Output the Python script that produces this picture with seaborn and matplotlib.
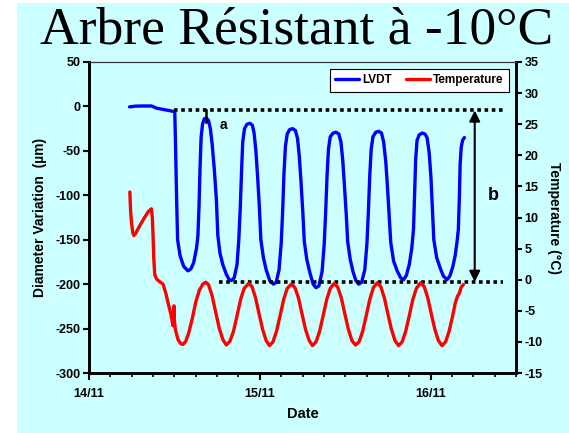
import numpy as np
import pandas as pd
import matplotlib
matplotlib.use("Agg")
import matplotlib.pyplot as plt
from matplotlib.patches import Rectangle
import seaborn as sns

# ---- data (hours since 14/11 00:00) ----
lvdt_hours = [5.7, 6.5, 7.5, 8.8, 9.5, 10.5, 11.5, 12.05, 12.15, 12.3, 12.45, 12.8, 13.3, 13.9, 14.3, 14.7,
              15.1, 15.3, 15.45, 15.6, 15.75, 15.95, 16.2, 16.5, 16.8, 17.05, 17.3, 17.6, 17.9, 18.1,
              18.4, 18.8, 19.3, 19.7, 20.0, 20.4, 20.8, 21.05, 21.25, 21.45, 21.6, 21.85, 22.2, 22.6,
              22.95, 23.2, 23.45, 23.7, 23.95, 24.15, 24.5, 24.9, 25.4, 25.9, 26.3, 26.7, 27.0, 27.2,
              27.4, 27.6, 27.85, 28.2, 28.6, 29.0, 29.3, 29.55, 29.8, 30.05, 30.25, 30.6, 31.0, 31.5,
              31.9, 32.3, 32.75, 33.05, 33.25, 33.45, 33.65, 33.9, 34.3, 34.7, 35.1, 35.4, 35.65, 35.9,
              36.15, 36.35, 36.7, 37.1, 37.5, 37.9, 38.3, 38.75, 39.05, 39.25, 39.45, 39.65, 39.9, 40.3,
              40.7, 41.1, 41.4, 41.7, 41.95, 42.2, 42.4, 42.8, 43.3, 43.8, 44.2, 44.6, 45.0, 45.35,
              45.6, 45.75, 45.9, 46.1, 46.4, 46.8, 47.2, 47.5, 47.8, 48.05, 48.25, 48.45, 48.85, 49.35,
              49.8, 50.3, 50.7, 51.1, 51.45, 51.75, 51.9, 52.05, 52.15, 52.3, 52.5, 52.75]
lvdt_um = [-0.5, 0.3, 0.5, 0.5, -2, -3.5, -5, -6, -40, -100, -150, -168, -180, -185, -183, -176,
           -160, -146, -115, -70, -35, -20, -14, -13, -16, -25, -42, -70, -105, -145,
           -165, -178, -189, -195, -196, -193, -178, -150, -115, -70, -40, -25, -20, -19,
           -21, -30, -50, -80, -115, -150, -170, -184, -196, -200, -198, -184, -155, -120,
           -75, -45, -31, -26, -25, -27, -36, -56, -86, -120, -152, -172, -186, -200,
           -204, -202, -186, -155, -120, -78, -48, -34, -30, -29, -31, -40, -60, -90,
           -122, -152, -172, -186, -196, -200, -198, -184, -155, -120, -78, -48, -34, -29,
           -28, -30, -40, -62, -92, -125, -153, -174, -185, -193, -195, -190, -178, -160,
           -138, -100, -60, -38, -32, -30, -31, -35, -52, -80, -115, -150, -170, -182,
           -191, -195, -191, -181, -168, -150, -138, -100, -65, -46, -38, -35]

temp_hours = [5.74, 5.85, 5.97, 6.15, 6.3, 6.6, 6.9, 7.6, 8.3, 8.77, 8.9, 9.0, 9.1, 9.24, 9.5, 9.9,
              10.4, 10.8, 11.1, 11.5, 11.8, 11.88, 11.94, 12.0, 12.13, 12.5, 12.9, 13.2, 13.6, 14.0,
              14.5, 15.0, 15.5, 16.0, 16.4, 16.8, 17.3, 17.8, 18.3, 18.8, 19.3, 19.8, 20.3, 20.8,
              21.3, 21.8, 22.45, 22.9, 23.4, 23.9, 24.4, 24.9, 25.35, 25.85, 26.35, 26.85, 27.35,
              27.85, 28.45, 28.95, 29.45, 29.95, 30.45, 30.95, 31.4, 31.9, 32.4, 32.9, 33.4, 33.9,
              34.45, 34.95, 35.45, 35.95, 36.45, 36.95, 37.45, 37.95, 38.45, 38.95, 39.45, 39.95,
              40.5, 41.0, 41.5, 42.0, 42.5, 43.0, 43.5, 44.0, 44.5, 45.0, 45.5, 46.0, 46.6, 47.1,
              47.6, 48.1, 48.6, 49.1, 49.6, 50.1, 50.6, 51.1, 51.5, 51.8, 52.0, 52.3, 52.6]
temp_c = [14.1, 11.0, 9.2, 7.6, 7.1, 7.5, 8.2, 9.6, 10.9, 11.4, 10.0, 7.1, 3.5, 0.8, 0.1, -0.3,
          -0.7, -2.2, -3.7, -5.5, -7.4, -6.0, -4.2, -6.5, -8.0, -9.6, -10.3, -10.4, -9.9, -8.6,
          -6.3, -3.6, -1.7, -0.7, -0.4, -0.8, -2.6, -5.2, -7.8, -9.6, -10.5, -9.9, -8.3, -5.8,
          -3.2, -1.4, -0.6, -1.1, -2.9, -5.5, -8.0, -9.8, -10.6, -10.0, -8.3, -5.8, -3.2,
          -1.4, -0.7, -1.3, -3.0, -5.6, -8.1, -9.8, -10.6, -10.0, -8.3, -5.8, -3.2, -1.4,
          -0.6, -1.2, -2.9, -5.5, -8.0, -9.8, -10.5, -10.0, -8.3, -5.8, -3.2, -1.3,
          -0.5, -1.1, -2.9, -5.5, -8.0, -9.8, -10.6, -10.0, -8.3, -5.8, -3.2, -1.4, -0.5, -1.1,
          -2.9, -5.5, -8.0, -9.8, -10.6, -10.0, -8.3, -5.8, -3.6, -2.6, -2.3, -1.2, -0.8]

date_ticks = [0, 24, 48]
date_labels = ["14/11", "15/11", "16/11"]
series_names = ["LVDT", "Temperature"]

df_lvdt = pd.DataFrame({"hour": lvdt_hours, "value": lvdt_um})
df_temp = pd.DataFrame({"hour": temp_hours, "value": temp_c})

# ---- style ----
CYAN = "#CCFFFF"
plt.rcParams["font.family"] = ["Liberation Sans", "DejaVu Sans"]
plt.rcParams["font.weight"] = "bold"
plt.rcParams["axes.unicode_minus"] = False

W, H = 569, 433
fig = plt.figure(figsize=(W / 100, H / 100), dpi=100, facecolor="white")
fig.patches.append(Rectangle((17 / W, 0), 1 - 17 / W, 1 - 3 / H, transform=fig.transFigure,
                             facecolor=CYAN, edgecolor="none", zorder=-10))

ax = fig.add_axes([89 / W, 1 - 373 / H, (516 - 89) / W, (373 - 62) / H])
ax.set_facecolor(CYAN)
ax2 = ax.twinx()

sns.lineplot(data=df_lvdt, x="hour", y="value", ax=ax, color="#0000FF", lw=2.4,
             estimator=None, sort=False, label=series_names[0], legend=False)
sns.lineplot(data=df_temp, x="hour", y="value", ax=ax2, color="#FF0000", lw=2.4,
             estimator=None, sort=False, label=series_names[1], legend=False)
for ln in ax.get_lines() + ax2.get_lines():
    ln.set_solid_joinstyle("round")
    ln.set_solid_capstyle("round")

ax.set_xlim(0, 60)
ax.set_ylim(-300, 50)
ax2.set_ylim(-15, 35)
ax.set_yticks(np.arange(-300, 51, 50))
ax2.set_yticks(np.arange(-15, 36, 5))
ax.set_xticks(date_ticks)
ax.set_xticklabels(date_labels)
ax.set_xticks(np.arange(0, 61, 3), minor=True)

for a in (ax, ax2):
    for s in a.spines.values():
        s.set_color("black")
    a.spines["left"].set_linewidth(2.0)
    a.spines["bottom"].set_linewidth(2.0)
    a.spines["right"].set_linewidth(2.0)
    a.spines["top"].set_linewidth(0.8)
    a.spines["top"].set_color("#333333")

ax.tick_params(axis="y", direction="out", length=4, width=1.5, labelsize=9, pad=2)
ax2.tick_params(axis="y", direction="out", length=4, width=1.5, labelsize=9, pad=2)
ax.tick_params(axis="x", which="major", direction="out", length=5, width=1.5, labelsize=9, pad=6)
ax.tick_params(axis="x", which="minor", direction="out", length=3, width=1.2)
for lab in ax.get_yticklabels() + ax2.get_yticklabels() + ax.get_xticklabels():
    lab.set_fontweight("bold")

ax.set_xlabel("Date", fontsize=10.5, fontweight="bold", labelpad=5)
ax.set_ylabel("Diameter Variation  (µm)", fontsize=10, fontweight="bold", labelpad=6)
ax2.set_ylabel("Temperature (°C)", fontsize=10, fontweight="bold", rotation=270, labelpad=13)

# ---- annotations ----
ax.plot([12.0, 58.2], [-4.5, -4.5], color="black", lw=2.6, ls=(0, (1, 1)), zorder=5)
ax.plot([18.3, 58.2], [-197.5, -197.5], color="black", lw=2.6, ls=(0, (1, 1)), zorder=5)
ax.plot([16.45, 16.45], [-4.5, -17], color="black", lw=1.8, zorder=5)
ax.text(18.9, -21, "a", fontsize=10, fontweight="bold", ha="center", va="center")
ax.annotate("", xy=(54.2, -4.5), xytext=(54.2, -197.5),
            arrowprops=dict(arrowstyle="<|-|>", color="black", lw=1.5, mutation_scale=16,
                            shrinkA=0, shrinkB=0))
ax.text(56.8, -100, "b", fontsize=13, fontweight="bold", ha="center", va="center")

# ---- legend ----
h1 = ax.get_lines()[0]
h2 = ax2.get_lines()[0]
leg = ax2.legend([h1, h2], series_names, loc="upper right", ncol=2, frameon=True,
                 fancybox=False, edgecolor="black", facecolor="white", framealpha=1,
                 prop={"weight": "bold", "size": 8.5}, handlelength=2.0, handletextpad=0.3,
                 columnspacing=1.2, borderaxespad=0.6, borderpad=0.45)
leg.get_frame().set_linewidth(0.8)

fig.text(297 / W, 1 - 44 / H, "Arbre Résistant à -10°C", family="Liberation Serif",
         fontsize=38.5, fontweight="normal", ha="center", va="baseline")

fig.savefig("out.png", dpi=100, facecolor="white")
